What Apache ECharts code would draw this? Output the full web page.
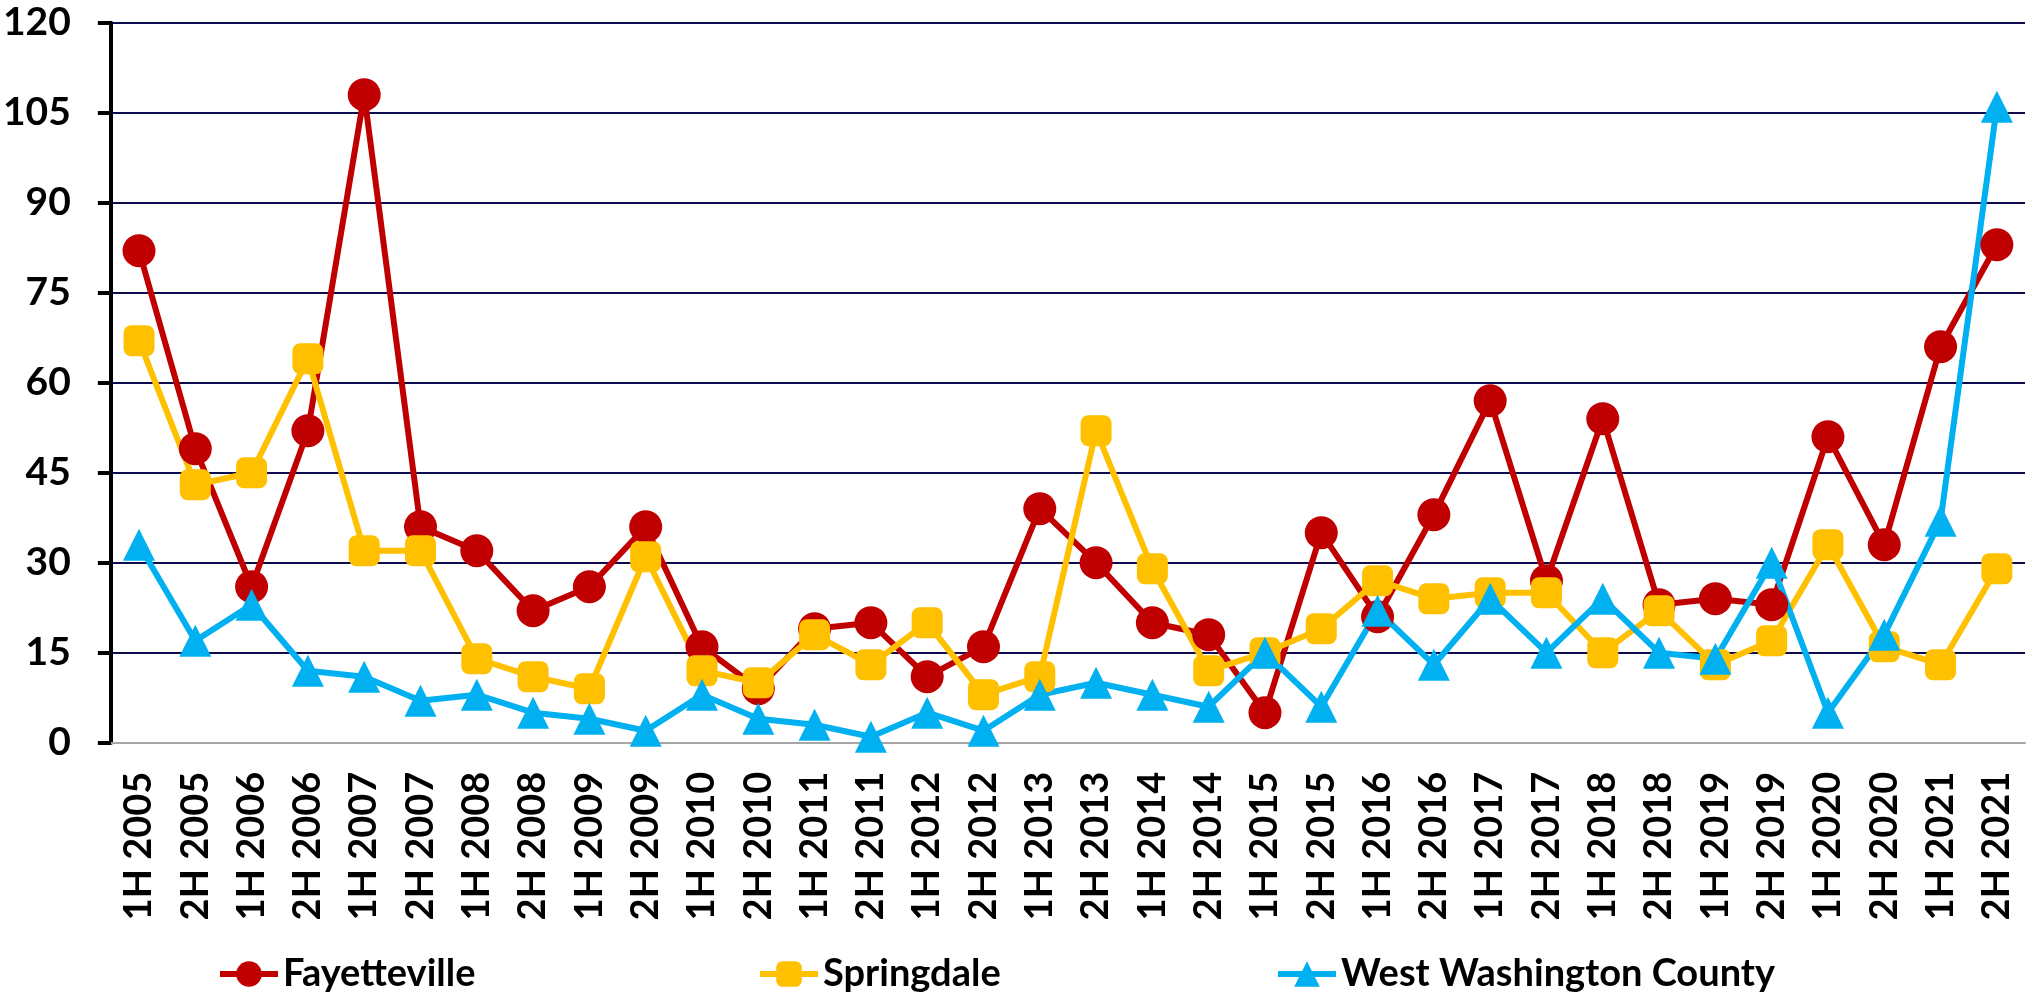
<!DOCTYPE html>
<html>
<head>
<meta charset="utf-8">
<script src="https://cdn.jsdelivr.net/npm/echarts@6/dist/echarts.min.js"></script>
<style>
  html, body { margin: 0; padding: 0; background: #fff; }
  #chart { width: 2043px; height: 999px; }
</style>
</head>
<body>
<div id="chart"></div>
<script>
var periods = [
  '1H 2005', '2H 2005', '1H 2006', '2H 2006', '1H 2007', '2H 2007', '1H 2008', '2H 2008',
  '1H 2009', '2H 2009', '1H 2010', '2H 2010', '1H 2011', '2H 2011', '1H 2012', '2H 2012',
  '1H 2013', '2H 2013', '1H 2014', '2H 2014', '1H 2015', '2H 2015', '1H 2016', '2H 2016',
  '1H 2017', '2H 2017', '1H 2018', '2H 2018', '1H 2019', '2H 2019', '1H 2020', '2H 2020',
  '1H 2021', '2H 2021'
]
var fayetteville = [82, 49, 26, 52, 108, 36, 32, 22, 26, 36, 16, 9, 19, 20, 11, 16,
  39, 30, 20, 18, 5, 35, 21, 38, 57, 27, 54, 23, 24, 23, 51, 33, 66, 83]
var springdale = [67, 43, 45, 64, 32, 32, 14, 11, 9, 31, 12, 10, 18, 13, 20, 8,
  11, 52, 29, 12, 15, 19, 27, 24, 25, 25, 15, 22, 13, 17, 33, 16, 13, 29]
var westWashington = [33, 17, 23, 12, 11, 7, 8, 5, 4, 2, 8, 4, 3, 1, 5, 2,
  8, 10, 8, 6, 15, 6, 22, 13, 24, 15, 24, 15, 14, 30, 5, 18, 37, 106]

var font = 'Lato, "Open Sans", sans-serif'

// one legend per series so each can sit where Excel put it
function legendFor (name, left) {
  return {
    data: [name],
    left: left,
    top: 950,
    itemWidth: 58,
    itemHeight: 32,
    lineStyle: { width: 6 },
    textStyle: { fontFamily: font, fontWeight: 'bold', fontSize: 38, color: '#000' }
  }
}

function lineSeries (name, data, color, symbol, size) {
  return {
    name: name,
    type: 'line',
    data: data,
    symbol: symbol,
    symbolSize: size,
    lineStyle: { color: color, width: 6 },
    itemStyle: { color: color }
  }
}

var chart = echarts.init(document.getElementById('chart'))
chart.setOption({
  animation: false,
  backgroundColor: '#fff',
  grid: { left: 108, right: 18, top: 22.7, bottom: 256.3 },
  legend: [
    legendFor('Fayetteville', 212),
    legendFor('Springdale', 752),
    legendFor('West Washington County', 1270)
  ],
  xAxis: {
    type: 'category',
    data: periods,
    boundaryGap: true,
    axisLine: { lineStyle: { color: '#a6a6a6', width: 2 } },
    axisTick: { show: false },
    axisLabel: {
      rotate: 90,
      interval: 0,
      margin: 29,
      fontFamily: font,
      fontWeight: 'bold',
      fontSize: 38,
      color: '#000'
    }
  },
  yAxis: {
    type: 'value',
    min: 0,
    max: 120,
    interval: 15,
    axisLine: { show: true, lineStyle: { color: '#000', width: 4 } },
    axisTick: { show: true, inside: false, length: 13, lineStyle: { color: '#000', width: 4 } },
    axisLabel: {
      margin: 40,
      fontFamily: font,
      fontWeight: 'bold',
      fontSize: 39,
      color: '#000'
    },
    splitLine: { lineStyle: { color: '#0c0c4e', width: 2 } }
  },
  series: [
    lineSeries('Fayetteville', fayetteville, '#C00000', 'circle', 33),
    lineSeries('Springdale', springdale, '#FFC000', 'roundRect', 31),
    lineSeries('West Washington County', westWashington, '#00B0F0', 'triangle', 32)
  ]
})
</script>
</body>
</html>
